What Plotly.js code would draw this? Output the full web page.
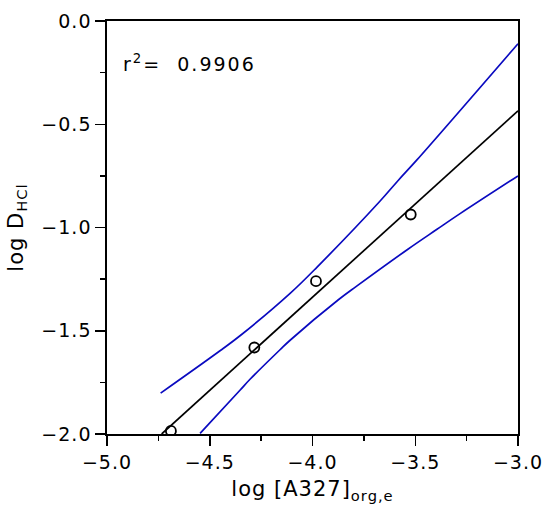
<!DOCTYPE html>
<html>
<head>
<meta charset="utf-8">
<script src="https://cdn.plot.ly/plotly-3.0.1.min.js"></script>
<style>
html,body{margin:0;padding:0;background:#fff;}
#chart .xtick text, #chart .ytick text { letter-spacing: 1px; }
#chart text.xtitle, #chart text.ytitle { letter-spacing: 1px; }
#chart .annotation text { letter-spacing: 2px; }
</style>
</head>
<body>
<div id="chart" style="width:550px;height:514px;"></div>
<script>
// measured data points
const dataX = [-4.689, -4.283, -3.983, -3.522];
const dataY = [-1.985, -1.581, -1.260, -0.937];
// regression line (read endpoints)
const fitX = [-4.734, -3.0];
const fitY = [-2.0, -0.435];
// upper confidence band
const upperX = [-4.739, -4.450, -4.345, -4.109, -3.980, -3.672, -3.582, -3.493, -3.0];
const upperY = [-1.802, -1.597, -1.518, -1.319, -1.194, -0.873, -0.771, -0.674, -0.11];
// lower confidence band
const lowerX = [-4.547, -4.353, -4.304, -4.158, -4.109, -3.874, -3.785, -3.534, -3.396, -3.282, -3.0];
const lowerY = [-1.997, -1.788, -1.735, -1.592, -1.546, -1.350, -1.284, -1.104, -1.010, -0.933, -0.750];
const r2Text = 'r<sup>2</sup>=  0.9906';
const xTitle = 'log [A327]<sub>org,e</sub>';
const yTitle = 'log D<sub>HCl</sub>';

const FONT = 'DejaVu Sans, Verdana, sans-serif';
const blue = '#0a0ac0';

const traces = [
  {x: upperX, y: upperY, mode: 'lines', line: {color: blue, width: 1.7, shape: 'spline', smoothing: 1}, hoverinfo: 'skip'},
  {x: lowerX, y: lowerY, mode: 'lines', line: {color: blue, width: 1.7, shape: 'spline', smoothing: 1}, hoverinfo: 'skip'},
  {x: fitX, y: fitY, mode: 'lines', line: {color: 'black', width: 1.7}, hoverinfo: 'skip'},
  {x: dataX, y: dataY, mode: 'markers', marker: {symbol: 'circle-open', size: 10, color: 'black', line: {width: 1.8, color: 'black'}}}
];

const axisCommon = {
  showgrid: false, zeroline: false,
  showline: true, linecolor: 'black', linewidth: 1.7, mirror: true,
  ticks: 'outside', ticklen: 10, tickwidth: 1.5, tickcolor: 'black',
  tickformat: '.1f',
  tickfont: {family: FONT, size: 19, color: 'black'},
  automargin: false,
  minor: {ticks: 'outside', ticklen: 5, tickwidth: 1.5, tickcolor: 'black', showgrid: false}
};

const layout = {
  width: 550, height: 514,
  margin: {l: 107, r: 32, t: 21, b: 80},
  paper_bgcolor: 'white', plot_bgcolor: 'white',
  showlegend: false,
  font: {family: FONT, color: 'black'},
  xaxis: Object.assign({}, axisCommon, {
    range: [-5, -3], tick0: -5, dtick: 0.5,
    minor: Object.assign({}, axisCommon.minor, {dtick: 0.25}),
    title: {text: xTitle, font: {family: FONT, size: 21, color: 'black'}, standoff: 10}
  }),
  yaxis: Object.assign({}, axisCommon, {
    range: [-2, 0], tick0: -2, dtick: 0.5,
    minor: Object.assign({}, axisCommon.minor, {dtick: 0.25}),
    title: {text: yTitle, font: {family: FONT, size: 21, color: 'black'}, standoff: 16}
  }),
  annotations: [{
    xref: 'paper', yref: 'paper', x: 0.062, y: 0.898,
    xanchor: 'left', yanchor: 'middle', showarrow: false,
    text: r2Text, font: {family: FONT, size: 19, color: 'black'}
  }]
};

Plotly.newPlot('chart', traces, layout, {staticPlot: true, displayModeBar: false});
</script>
</body>
</html>
